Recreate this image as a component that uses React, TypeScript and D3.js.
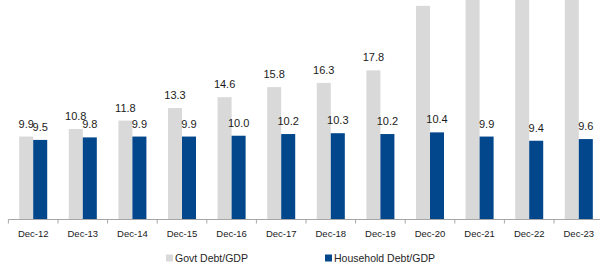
import React from "react";
import * as d3 from "d3";

const categories = ["Dec-12", "Dec-13", "Dec-14", "Dec-15", "Dec-16", "Dec-17", "Dec-18", "Dec-19", "Dec-20", "Dec-21", "Dec-22", "Dec-23"];
const govtDebt = [9.9, 10.8, 11.8, 13.3, 14.6, 15.8, 16.3, 17.8, 25.5, 28.5, 30.0, 31.0];
const householdDebt = [9.5, 9.8, 9.9, 9.9, 10.0, 10.2, 10.3, 10.2, 10.4, 9.9, 9.4, 9.6];
const seriesNames = ["Govt Debt/GDP", "Household Debt/GDP"];
const seriesColors = ["#D9D9D9", "#02468C"];

const W = 600;
const H = 274;
const baseY = 219.5;

export default function App() {
  const x0 = d3.scaleBand<string>().domain(categories).range([8.4, 8.4 + 49.6 * 12]).padding(0);
  const x1 = d3.scaleBand<string>().domain(seriesNames).range([0, x0.bandwidth()]).paddingInner(0).paddingOuter(0.77);
  const y = d3.scaleLinear().domain([0, 26.2]).range([baseY, 0]);
  const seriesVals = [govtDebt, householdDebt];
  const font = "'Liberation Sans', Arial, sans-serif";
  const tickPositions = [...categories.map((c) => x0(c)!), x0.range()[1]];

  return (
    <svg width={W} height={H} style={{ position: "absolute", left: 0, top: 0 }}>
      <defs>
        <clipPath id="plot">
          <rect x={0} y={0} width={W} height={baseY} />
        </clipPath>
      </defs>
      <g clipPath="url(#plot)">
        {seriesNames.map((s, si) =>
          categories.map((c, i) => (
            <rect
              key={s + c}
              x={x0(c)! + x1(s)!}
              y={y(seriesVals[si][i])}
              width={x1.bandwidth()}
              height={baseY - y(seriesVals[si][i])}
              fill={seriesColors[si]}
            />
          ))
        )}
      </g>
      {seriesNames.map((s, si) =>
        categories.map((c, i) => {
          const ly = y(seriesVals[si][i]) - 9;
          if (ly < 12) return null;
          return (
            <text
              key={"l" + s + c}
              x={x0(c)! + x1(s)! + x1.bandwidth() / 2}
              y={ly}
              textAnchor="middle"
              fontFamily={font}
              fontSize={11}
              fill="#1a1a1a"
            >
              {seriesVals[si][i].toFixed(1)}
            </text>
          );
        })
      )}
      <line x1={8.4} x2={W} y1={baseY} y2={baseY} stroke="#A6A6A6" strokeWidth={1} />
      {tickPositions.map((t, i) => (
        <line key={"t" + i} x1={t} x2={t} y1={baseY} y2={baseY + 4} stroke="#A6A6A6" strokeWidth={1} />
      ))}
      {categories.map((c) => (
        <text
          key={"x" + c}
          x={x0(c)! + x0.bandwidth() / 2}
          y={237}
          textAnchor="middle"
          fontFamily={font}
          fontSize={9.5}
          fill="#1a1a1a"
        >
          {c}
        </text>
      ))}
      {[166, 325].map((lx, si) => (
        <g key={"leg" + si}>
          <rect x={lx} y={254.5} width={7} height={7} fill={seriesColors[si]} />
          <text x={lx + 9} y={262} fontFamily={font} fontSize={10.5} fill="#262626">
            {seriesNames[si]}
          </text>
        </g>
      ))}
    </svg>
  );
}
